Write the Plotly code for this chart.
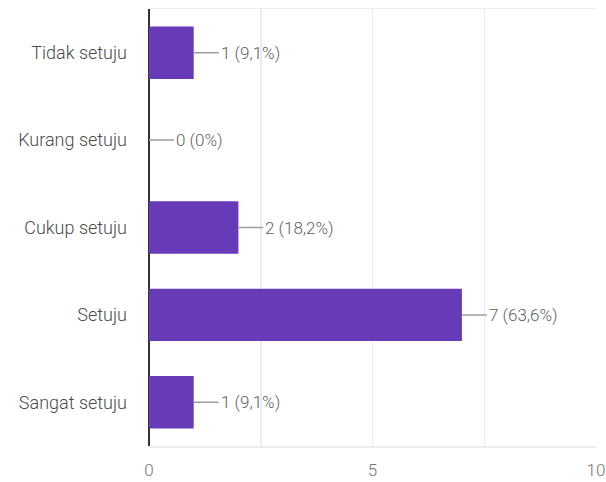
import plotly.graph_objects as go

categories = ["Tidak setuju", "Kurang setuju", "Cukup setuju", "Setuju", "Sangat setuju"]
counts = [1, 0, 2, 7, 1]
percent_labels = ["9,1%", "0%", "18,2%", "63,6%", "9,1%"]
x_ticks = [0, 5, 10]

labels = [f"{c} ({p})" for c, p in zip(counts, percent_labels)]

fig = go.Figure()
fig.add_trace(go.Bar(
    x=counts, y=categories, orientation="h",
    marker=dict(color="#673AB7", line=dict(width=0)),
    width=0.6, hoverinfo="skip",
))

for c, cat, lab in zip(counts, categories, labels):
    fig.add_annotation(
        x=c, y=cat, text=lab, showarrow=True, arrowhead=0,
        arrowwidth=1.5, arrowcolor="#9e9e9e", ax=25, ay=0,
        xanchor="left", yanchor="middle", standoff=0,
        font=dict(family="Roboto", size=17, color="#5f5f5f", weight=300),
    )

fig.update_layout(
    width=606, height=482,
    margin=dict(l=149, r=10, t=9, b=36, autoexpand=False),
    paper_bgcolor="white", plot_bgcolor="white",
    showlegend=False,
    font=dict(family="Roboto", size=18, color="#4a4a4a", weight=300),
    xaxis=dict(
        range=[0, 10], tickvals=[0, 2.5, 5, 7.5, 10],
        ticktext=["0", "", "5", "", "10"],
        showgrid=True, gridcolor="#ececec", gridwidth=1.5,
        zeroline=True, zerolinecolor="#333333", zerolinewidth=2,
        showline=True, linecolor="#ececec", linewidth=1.5, mirror=True,
        ticks="", tickfont=dict(size=17, color="#757575"),
        ticklabelstandoff=8, fixedrange=True, automargin=False,
    ),
    yaxis=dict(
        categoryorder="array", categoryarray=categories[::-1],
        showgrid=False, zeroline=False, showline=False,
        ticks="", ticklabelstandoff=21, automargin=False, fixedrange=True,
        tickfont=dict(size=18, color="#4a4a4a"),
    ),
)

fig.write_html(
    "out.html",
    config={"displayModeBar": False, "staticPlot": True},
    post_script="document.body.style.margin='0';document.body.style.overflow='hidden';",
)
